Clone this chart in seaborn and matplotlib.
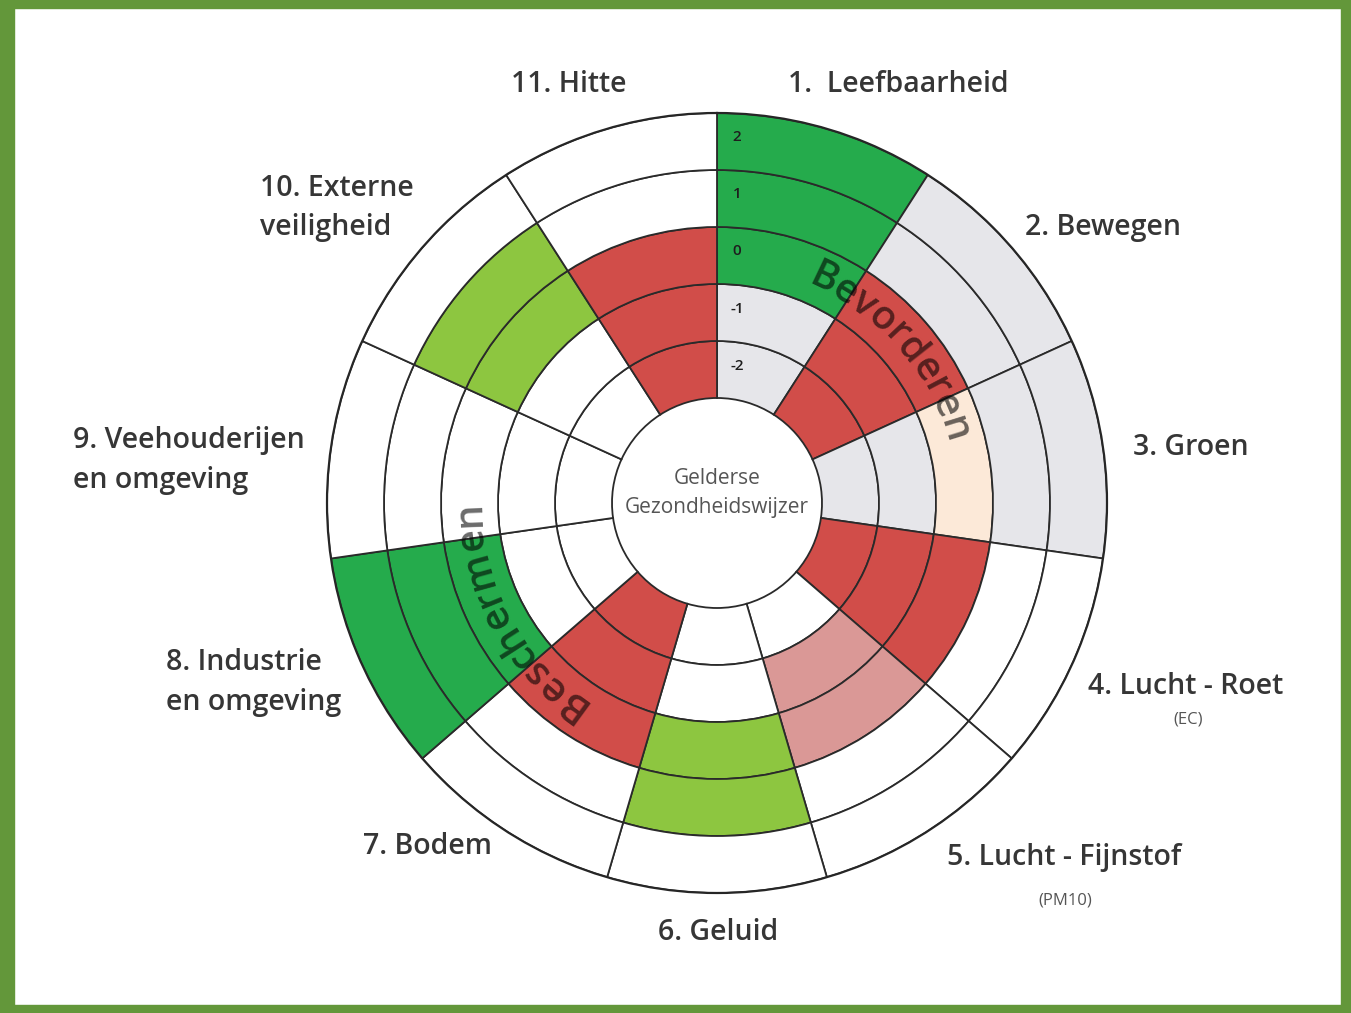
import numpy as np
import matplotlib
matplotlib.use("Agg")
import matplotlib.pyplot as plt
import seaborn as sns
from matplotlib.patches import Rectangle
from matplotlib.font_manager import FontProperties
from matplotlib.textpath import text_to_path

# sector labels, clockwise from the top
labels = ["1.  Leefbaarheid", "2. Bewegen", "3. Groen", "4. Lucht - Roet",
          "5. Lucht - Fijnstof", "6. Geluid", "7. Bodem",
          "8. Industrie\nen omgeving", "9. Veehouderijen\nen omgeving",
          "10. Externe\nveiligheid", "11. Hitte"]
sublabels = ["", "", "", "(EC)", "(PM10)", "", "", "", "", "", ""]
levels = ["-2", "-1", "0", "1", "2"]

# cell colour class per ring (inner -2 to outer 2), one entry per sector
ring_m2 = ["grey", "red", "grey", "red", "white", "white", "red", "white", "white", "white", "red"]
ring_m1 = ["grey", "red", "grey", "red", "pink", "white", "red", "white", "white", "white", "red"]
ring_0 = ["dgreen", "red", "peach", "red", "pink", "lgreen", "red", "dgreen", "white", "lgreen", "red"]
ring_p1 = ["dgreen", "grey", "grey", "white", "white", "lgreen", "white", "dgreen", "white", "lgreen", "white"]
ring_p2 = ["dgreen", "grey", "grey", "white", "white", "white", "white", "dgreen", "white", "white", "white"]
rings = [ring_m2, ring_m1, ring_0, ring_p1, ring_p2]

palette = {"white": "#ffffff", "grey": "#e6e6ea", "dgreen": "#25ab4c",
           "lgreen": "#8dc640", "red": "#d14d49", "pink": "#da9896",
           "peach": "#fce9d8"}

sns.set_theme(style="white")
plt.rcParams["font.family"] = ["Open Sans", "DejaVu Sans"]

W, H, DPI = 1351, 1013, 100
fig = plt.figure(figsize=(W / DPI, H / DPI), dpi=DPI)
fig.patch.set_facecolor("white")

# geometry in pixels
cx, cy = 717, 503
ring_px = 57.0
hole = 105.0 / ring_px
outer = hole + len(levels)
R = outer * ring_px

ax = fig.add_axes([(cx - R) / W, (H - cy - R) / H, 2 * R / W, 2 * R / H],
                  projection="polar")
ax.set_theta_zero_location("N")
ax.set_theta_direction(-1)
ax.set_ylim(0, outer)
ax.grid(False)
ax.set_xticks([])
ax.set_yticks([])
ax.set_facecolor("white")
ax.spines["polar"].set_color("#262626")
ax.spines["polar"].set_linewidth(1.6)

n = len(labels)
width = 2 * np.pi / n
theta = np.arange(n) * width + width / 2
for j, ring in enumerate(rings):
    ax.bar(theta, np.ones(n), width=width, bottom=hole + j,
           color=[palette[c] for c in ring], edgecolor="#2a2a2a",
           linewidth=1.3, align="center", zorder=2)

# level numbers in sector 1
for j, lv in enumerate(levels):
    r_px = (hole + j + 0.5) * ring_px + 5
    th = np.arcsin(20 / r_px)
    ax.text(th, r_px / ring_px, lv, ha="center", va="center",
            fontsize=11, fontweight="semibold", color="#1e1e1e", zorder=4)


def arc_text(s, mid_deg, r_px, size):
    fp = FontProperties(family="Open Sans", size=size, weight="semibold")
    scale = DPI / 72.0

    def wid(t):
        return text_to_path.get_text_width_height_descent(t, fp, ismath=False)[0] * scale if t else 0.0

    total = wid(s)
    for i, ch in enumerate(s):
        c = wid(s[:i + 1]) - wid(ch) / 2
        th = np.deg2rad(mid_deg) + (c - total / 2) / r_px
        ax.text(th, r_px / ring_px, ch, fontproperties=fp,
                rotation=-np.rad2deg(th), rotation_mode="anchor",
                ha="center", va="baseline", color="black", alpha=0.58, zorder=5)


arc_text("Bevorderen", 49.0, 237, 28.5)
arc_text("Beschermen", 241.8, 237, 28.5)

ax.text(0, 0.18, "Gelderse\nGezondheidswijzer", ha="center", va="center",
        fontsize=15, color="#555555", linespacing=1.5, zorder=5)

# outer labels (pixel positions)
label_pos = [(898, 85, "center"), (1025, 228, "left"), (1133, 447, "left"),
             (1088, 686, "left"), (947, 857, "left"), (718, 932, "center"),
             (492, 846, "right"), (166, 682, "left"), (73, 460, "left"),
             (260, 208, "left"), (569, 85, "center")]
sub_pos = [None, None, None, (1188, 720), (1065, 900), None, None, None, None, None, None]
for lab, (x, y, ha), sub, sp in zip(labels, label_pos, sublabels, sub_pos):
    fig.text(x / W, 1 - y / H, lab, ha=ha, va="center", fontsize=20.5,
             fontweight="semibold", color="#363636", linespacing=1.5)
    if sub:
        fig.text(sp[0] / W, 1 - sp[1] / H, sub, ha="center", va="center",
                 fontsize=12, color="#555555")

# green frame
frame = "#63973a"
for x0, y0, w0, h0 in [(0, 0, 14, H), (W - 10, 0, 10, H), (0, 0, W, 8), (0, H - 8, W, 8)]:
    fig.patches.append(Rectangle((x0 / W, y0 / H), w0 / W, h0 / H,
                                 transform=fig.transFigure, color=frame, zorder=10))

fig.savefig("out.png", dpi=DPI)
